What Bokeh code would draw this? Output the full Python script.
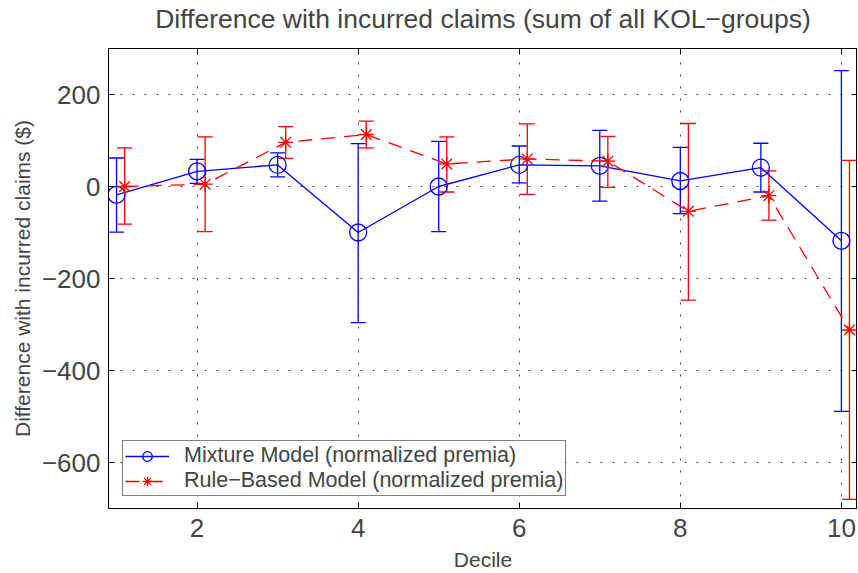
from bokeh.plotting import figure
from bokeh.models import (ColumnDataSource, Whisker, TeeHead, Legend, LegendItem,
                          LinearAxis, FixedTicker, Range1d)
from bokeh.transform import dodge
from bokeh.embed import file_html
from bokeh.resources import INLINE

# ---- data ----
deciles = [1, 2, 3, 4, 5, 6, 7, 8, 9, 10]

mixture_mean = [-18, 33, 47, -100, 0, 47, 45, 12, 41, -118]
mixture_upper = [62, 59, 73, 93, 98, 88, 122, 85, 94, 252]
mixture_lower = [-99, 7, 21, -296, -98, 8, -32, -59, -12, -489]

rule_mean = [0, 5, 96, 113, 49, 60, 55, -54, -20, -312]
rule_upper = [84, 108, 130, 142, 108, 136, 109, 137, 34, 57]
rule_lower = [-82, -98, 61, 84, -12, -17, -2, -247, -73, -680]

x_ticks = [2, 4, 6, 8, 10]
y_ticks = [-600, -400, -200, 0, 200]
y_tick_labels = ["\u2212600", "\u2212400", "\u2212200", "0", "200"]

title_text = "Difference with incurred claims (sum of all KOL\u2212groups)"
x_label = "Decile"
y_label = "Difference with incurred claims ($)"
mixture_name = "Mixture Model (normalized premia)"
rule_name = "Rule\u2212Based Model (normalized premia)"

FONT = "Liberation Sans"
BLUE = "#0000ff"
RED = "#ff0000"

mix_src = ColumnDataSource(dict(x=deciles, y=mixture_mean, upper=mixture_upper, lower=mixture_lower))
rule_src = ColumnDataSource(dict(x=deciles, y=rule_mean, upper=rule_upper, lower=rule_lower))

p = figure(width=857, height=573, output_backend="svg", toolbar_location=None,
           x_range=Range1d(0.9, 10.2), y_range=Range1d(-700, 300),
           min_border_left=108, min_border_right=0, min_border_top=48, min_border_bottom=65,
           title=title_text)
p.background_fill_color = "white"
p.border_fill_color = "white"
p.outline_line_color = "black"
p.outline_line_width = 1

p.title.text_font = FONT
p.title.text_font_size = "26.5px"
p.title.text_font_style = "normal"
p.title.align = "center"
p.title.standoff = 2

# axes
for ax in p.xaxis:
    ax.ticker = FixedTicker(ticks=x_ticks)
    ax.major_tick_in = 6
    ax.major_tick_out = 0
    ax.minor_tick_line_color = None
    ax.major_label_text_font = FONT
    ax.major_label_text_font_size = "26px"
    ax.major_label_standoff = 10
    ax.axis_label = x_label
    ax.axis_label_text_font = FONT
    ax.axis_label_text_font_size = "21px"
    ax.axis_label_text_font_style = "normal"
    ax.axis_label_standoff = 8
for ax in p.yaxis:
    ax.ticker = FixedTicker(ticks=y_ticks)
    ax.major_label_overrides = dict(zip(y_ticks, y_tick_labels))
    ax.major_tick_in = 6
    ax.major_tick_out = 0
    ax.minor_tick_line_color = None
    ax.major_label_text_font = FONT
    ax.major_label_text_font_size = "26px"
    ax.major_label_standoff = 8
    ax.axis_label = y_label
    ax.axis_label_text_font = FONT
    ax.axis_label_text_font_size = "21px"
    ax.axis_label_text_font_style = "normal"
    ax.axis_label_standoff = 5

# tick marks on top and right (no labels)
top_ax = LinearAxis(ticker=FixedTicker(ticks=x_ticks), major_tick_in=6, major_tick_out=0,
                    minor_tick_line_color=None, major_label_text_color=None,
                    major_label_text_font_size="1px", major_label_standoff=0)
right_ax = LinearAxis(ticker=FixedTicker(ticks=y_ticks), major_tick_in=6, major_tick_out=0,
                      minor_tick_line_color=None, major_label_text_color=None,
                      major_label_text_font_size="1px", major_label_standoff=0)
# invisible spacer between the frame and the title
spacer_ax = LinearAxis(ticker=FixedTicker(ticks=x_ticks), major_tick_in=0, major_tick_out=14,
                       major_tick_line_color=None, axis_line_color=None,
                       minor_tick_line_color=None, major_label_text_color=None,
                       major_label_text_font_size="1px", major_label_standoff=0)
p.add_layout(top_ax, "above")
p.add_layout(spacer_ax, "above")
p.add_layout(right_ax, "right")

# grid
for g in (p.xgrid, p.ygrid):
    g.grid_line_color = "black"
    g.grid_line_alpha = 0.75
    g.grid_line_dash = "2 10"
    g.grid_line_width = 1
p.xgrid.ticker = FixedTicker(ticks=x_ticks)
p.ygrid.ticker = FixedTicker(ticks=y_ticks)

# Mixture model (blue)
mix_line = p.line("x", "y", source=mix_src, line_color=BLUE, line_width=1.3)
p.add_layout(Whisker(base="x", upper="upper", lower="lower", source=mix_src,
                     line_color=BLUE, line_width=1.3,
                     upper_head=TeeHead(size=15, line_color=BLUE, line_width=1.3),
                     lower_head=TeeHead(size=15, line_color=BLUE, line_width=1.3)))
mix_pts = p.scatter("x", "y", source=mix_src, marker="circle", size=17,
                    line_color=BLUE, line_width=1.3, fill_color=None)

# Rule-based model (red, offset by 0.1)
rx = dodge("x", 0.1)
rule_line = p.line(rx, "y", source=rule_src, line_color=RED, line_width=1.3, line_dash="14 9")
p.add_layout(Whisker(base=rx, upper="upper", lower="lower", source=rule_src,
                     line_color=RED, line_width=1.3,
                     upper_head=TeeHead(size=15, line_color=RED, line_width=1.3),
                     lower_head=TeeHead(size=15, line_color=RED, line_width=1.3)))
rule_pts = p.scatter(rx, "y", source=rule_src, marker="asterisk", size=15,
                     line_color=RED, line_width=1.3)

legend = Legend(items=[LegendItem(label=mixture_name, renderers=[mix_line, mix_pts]),
                       LegendItem(label=rule_name, renderers=[rule_line, rule_pts])],
                location=(14, 12), label_text_font=FONT, label_text_font_size="21.5px",
                glyph_width=44, glyph_height=24, label_height=24, label_standoff=15,
                padding=2, spacing=0, margin=0,
                border_line_color="black", border_line_width=1.2,
                background_fill_color="white", background_fill_alpha=1.0)
p.add_layout(legend)

open("out.html", "w").write(file_html(p, INLINE))
